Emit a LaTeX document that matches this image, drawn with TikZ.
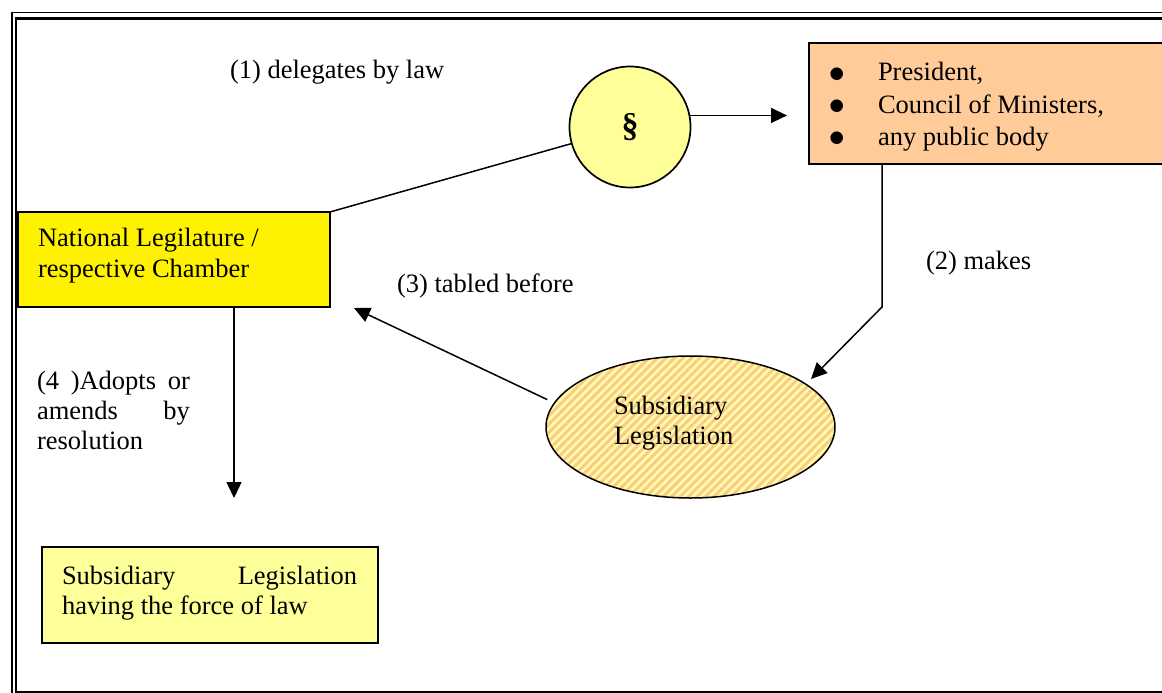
\documentclass[tikz,border=0pt]{standalone}
\usepackage{fontspec}
\setmainfont{Liberation Serif}
\newfontfamily\symfont{DejaVu Sans}
\usetikzlibrary{arrows.meta,shapes.geometric,patterns.meta}
\definecolor{lemon}{HTML}{FFFF99}
\definecolor{peach}{HTML}{FFCC99}
\definecolor{stripe}{HTML}{F9C894}
\newcommand{\bigbullet}{\raisebox{2.5pt}{\symfont\fontsize{16.5}{16.5}\selectfont ●}}

\begin{document}
\begin{tikzpicture}[x=1pt,y=-1pt,
  every node/.style={font=\fontsize{26.5}{30}\selectfont, inner sep=0pt, outer sep=0pt},
  box/.style={draw, line width=1.7pt},
  txt/.style={anchor=base west},
  conn/.style={line width=1.5pt},
  arr/.style={conn, -{Triangle[length=16pt,width=15pt]}},
]
\useasboundingbox (0,0) rectangle (1162,693);
\clip (0,0) rectangle (1162,693);

% double page frame
\draw[line width=1.6pt] (11.8,12.5) rectangle (1185,715);
\draw[line width=2.4pt] (15.7,18.6) rectangle (1180,691.7);

% boxes
\node[box, fill=yellow, minimum width=312pt, minimum height=95pt] (leg) at (174,259.5) {};
\node[box, circle, fill=lemon, minimum size=121pt,
      font=\fontsize{34}{34}\selectfont\bfseries] (sec) at (630,127) {§};
\node[box, fill=peach, minimum width=371pt, minimum height=121pt] (pres) at (994.5,103.5) {};
\node[draw, ellipse, line width=1.5pt, minimum width=289pt, minimum height=142pt,
      preaction={fill=lemon},
      pattern={Lines[angle=45,distance=6pt,line width=3pt]}, pattern color=stripe] (ell) at (690.5,427) {};
\node[box, line width=2pt, fill=lemon, minimum width=336pt, minimum height=96pt] (force) at (210,595) {};

% box texts
\node[txt] (legA) at (38,246) {National Legilature /};
\node[txt] (legB) at (38,277) {respective Chamber};
\node[txt] (b1) at (829.5,81) {\bigbullet};
\node[txt] (b2) at (829.5,113) {\bigbullet};
\node[txt] (b3) at (829.5,145) {\bigbullet};
\node[txt] (p1) at (878,81) {President,};
\node[txt] (p2) at (878,113) {Council of Ministers,};
\node[txt] (p3) at (878,145) {any public body};
\node[txt] (ellA) at (614,414) {Subsidiary};
\node[txt] (ellB) at (614,444) {Legislation};
\node[txt] (forceA) at (62,584) {\makebox[295pt][s]{Subsidiary Legislation}};
\node[txt] (forceB) at (62,614) {having the force of law};

% connector labels
\node[txt] (lab1) at (230,78) {(1) delegates by law};
\node[txt] (lab2) at (926,269) {(2) makes};
\node[txt] (lab3) at (397,292) {(3) tabled before};
\node[txt] (lab4a) at (37,389) {\makebox[153pt][s]{(4 )Adopts or}};
\node[txt] (lab4b) at (37,419) {\makebox[153pt][s]{amends by}};
\node[txt] (lab4c) at (37,449) {resolution};

% connectors
\coordinate (tipA) at (787,116);
\coordinate (bendB) at (882,307);
\coordinate (tipB) at (811,379);
\coordinate (tipC) at (354,308);
\coordinate (tipD) at (234,498);

\draw[conn] (leg.north east) -- (sec);
\draw[arr] (sec.11) -- (tipA |- sec.11);
\draw[arr] (pres.south -| bendB) -- (bendB) -- (tipB);
\draw[arr, shorten <=8pt] (ell.170) -- (tipC);
\draw[arr] (leg.south -| tipD) -- (tipD);
\end{tikzpicture}
\end{document}
